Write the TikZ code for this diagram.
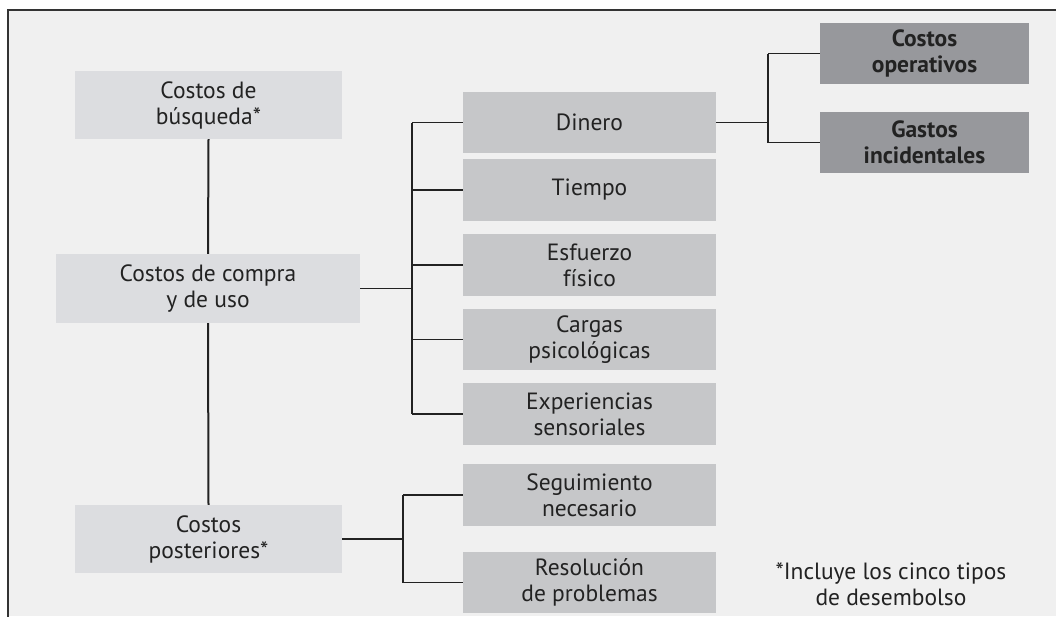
\documentclass[tikz,border=0pt]{standalone}
\usepackage{fontspec}
\setmainfont{PT Sans}
\definecolor{bgc}{HTML}{F0F0F0}
\definecolor{lightbox}{HTML}{DCDDE0}
\definecolor{midbox}{HTML}{C6C7C9}
\definecolor{darkbox}{HTML}{97989C}
\definecolor{txt}{HTML}{222222}
\definecolor{framec}{HTML}{333333}
\begin{document}
\begin{tikzpicture}[x=1pt,y=-1pt,
  base/.style={rectangle, inner sep=0pt, align=center, text=txt,
    font=\fontsize{23.5}{26}\selectfont},
  lbox/.style={base, fill=lightbox},
  mbox/.style={base, fill=midbox, minimum width=253pt, minimum height=62pt},
  dbox/.style={base, fill=darkbox, minimum width=209pt, minimum height=61pt,
    font=\fontsize{23.5}{26}\selectfont\bfseries},
  thick line/.style={draw=txt, line width=2pt},
  thin line/.style={draw=txt, line width=1.2pt}]
\useasboundingbox (0,0) rectangle (1056,616);
\fill[white] (0,0) rectangle (1056,616);
\fill[bgc] (8,10) rectangle (1056,616);
\draw[framec, line width=2pt] (8,617) -- (8,10) -- (1057,10);

\node[lbox, minimum width=267pt, minimum height=68pt] (busq) at (208.5,105) {Costos de\\búsqueda*};
\node[lbox, minimum width=304pt, minimum height=69pt] (compra) at (208,288.5) {Costos de compra\\y de uso};
\node[lbox, minimum width=267pt, minimum height=68pt] (post) at (208.5,539) {Costos\\posteriores*};

\node[mbox, minimum height=61pt] (dinero) at (589.5,122.5) {Dinero};
\node[mbox] (tiempo) at (589.5,190) {Tiempo};
\node[mbox] (esfuerzo) at (589.5,265) {Esfuerzo\\físico};
\node[mbox, minimum height=61pt] (cargas) at (589.5,339.5) {Cargas\\psicológicas};
\node[mbox] (exper) at (589.5,414) {Experiencias\\sensoriales};
\node[mbox] (segui) at (589.5,495) {Seguimiento\\necesario};
\node[mbox, minimum height=61pt] (resol) at (589.5,582.5) {Resolución\\de problemas};

\node[dbox] (oper) at (924.5,53.5) {Costos\\operativos};
\node[dbox] (gastos) at (924.5,142.5) {Gastos\\incidentales};

\node[base, anchor=center] (nota) at (891,584) {*Incluye los cinco tipos\\de desembolso};

\coordinate (bj) at (412,0);
\coordinate (pj) at (403,0);
\coordinate (dj) at (768,0);

% vertical trunk
\draw[thick line] (busq.south) -- (compra.north);
\draw[thick line] (compra.south) -- (post.north);

% compra bracket
\draw[thin line] (compra.east) -- (compra.east -| bj);
\draw[thick line] (dinero.west -| bj) -- (exper.west -| bj);
\foreach \n in {dinero,tiempo,esfuerzo,cargas,exper}
  \draw[thin line] (\n.west -| bj) -- (\n.west);

% posteriores bracket
\draw[thin line] (post.east) -- (post.east -| pj);
\draw[thick line] (segui.west -| pj) -- (resol.west -| pj);
\foreach \n in {segui,resol}
  \draw[thin line] (\n.west -| pj) -- (\n.west);

% dinero bracket
\draw[thin line] (dinero.east) -- (dinero.east -| dj);
\draw[thick line] (oper.west -| dj) -- (gastos.west -| dj);
\foreach \n in {oper,gastos}
  \draw[thin line] (\n.west -| dj) -- (\n.west);
\end{tikzpicture}
\end{document}
